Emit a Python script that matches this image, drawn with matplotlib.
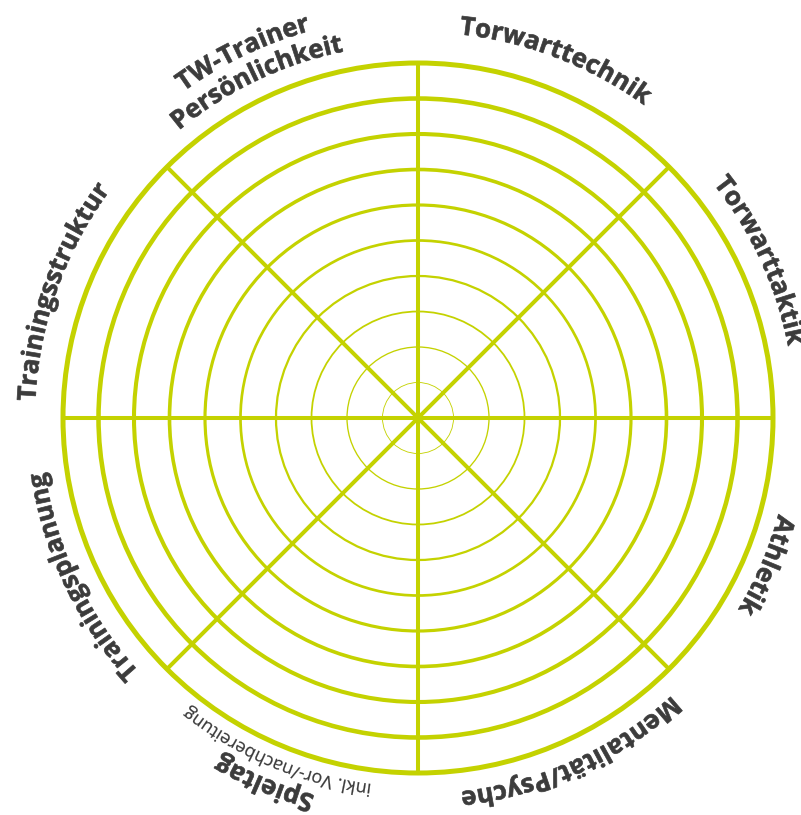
"""
Goalkeeper-coach wheel: 8 segments, 10 rings, labels along the rim.
"""

import numpy as np
import matplotlib
matplotlib.use("Agg")
import matplotlib.pyplot as plt
from matplotlib.font_manager import FontProperties, findfont
from matplotlib.ft2font import FT2Font
from matplotlib.patches import Circle, PathPatch
from matplotlib.textpath import TextPath
from matplotlib.transforms import Affine2D

# ── Data ──
# each entry: lines from outside (far from centre) to inside
label_lines = [
    ["Torwarttechnik"],
    ["Torwarttaktik"],
    ["Athletik"],
    ["Mentalität/Psyche"],
    ["Spieltag", "inkl. Vor-/nachbereitung"],
    ["Trainingsplanung"],
    ["Trainingsstruktur"],
    ["TW-Trainer", "Persönlichkeit"],
]
levels = [1, 2, 3, 4, 5, 6, 7, 8, 9, 10]
n_spokes = 8

# placement of each label: centre angle (deg) and baseline radius (px) per line
label_angle = [69, 24.7, -22.9, -65.5, -112.8, -154.7, 160.5, 115.6]
label_radius = [[386], [377], [373], [376], [391, 369], [377], [383], [402, 374]]

GREEN = "#c4d200"
TEXT = "#3c3c3c"

W, H = 801, 815
CX, CY = 418, H - 418
UNIT = 35.5          # pixels per ring level
R_OUT = levels[-1] * UNIT
PX = 100 / 72        # points -> pixels

BOLD = FontProperties(family="Open Sans", weight="bold", size=18.5)
SMALL = FontProperties(family="Open Sans", weight="normal", size=12.9)


def advances(text, prop):
    font = FT2Font(findfont(prop))
    font.set_size(prop.get_size_in_points(), 100)
    return [font.load_char(ord(c)).linearHoriAdvance / 65536 for c in text]


def arc_text(ax, text, mid_deg, radius, prop, stroke):
    # clockwise text, letter tops pointing away from the centre
    adv = advances(text, prop)
    pref = np.concatenate([[0], np.cumsum(adv)])
    total = pref[-1]
    for i, ch in enumerate(text):
        if ch == " ":
            continue
        s = 0.5 * (pref[i] + pref[i + 1])
        theta = mid_deg + np.rad2deg((total / 2 - s) / radius)
        t = np.deg2rad(theta)
        path = TextPath((0, 0), ch, prop=prop)
        tr = (Affine2D().scale(PX).translate(-adv[i] / 2, 0)
              .rotate_deg(theta - 90)
              .translate(CX + radius * np.cos(t), CY + radius * np.sin(t)))
        ax.add_patch(PathPatch(tr.transform_path(path), fc=TEXT,
                               ec=TEXT if stroke else "none", lw=stroke,
                               zorder=4))


def main():
    fig = plt.figure(figsize=(W / 100, H / 100), dpi=100)
    ax = fig.add_axes([0, 0, 1, 1])
    ax.set_xlim(0, W)
    ax.set_ylim(0, H)
    ax.axis("off")

    # ── rings, thin in the middle, heavy at the rim ──
    for k in levels:
        lw_px = 0.4 + 0.46 * k
        ax.add_patch(Circle((CX, CY), k * UNIT, fill=False, ec=GREEN,
                            lw=lw_px * 0.72, zorder=2))

    # ── spokes ──
    for i in range(n_spokes):
        a = np.deg2rad(i * 360 / n_spokes)
        ax.plot([CX, CX + R_OUT * np.cos(a)], [CY, CY + R_OUT * np.sin(a)],
                color=GREEN, lw=2.9, solid_capstyle="butt", zorder=3)

    # ── labels ──
    for lines, mid, radii in zip(label_lines, label_angle, label_radius):
        for txt, r in zip(lines, radii):
            small = txt.startswith("inkl")
            arc_text(ax, txt, mid, r, SMALL if small else BOLD,
                     0.15 if small else 0.5)

    fig.savefig("out.png", dpi=100)


if __name__ == "__main__":
    main()
